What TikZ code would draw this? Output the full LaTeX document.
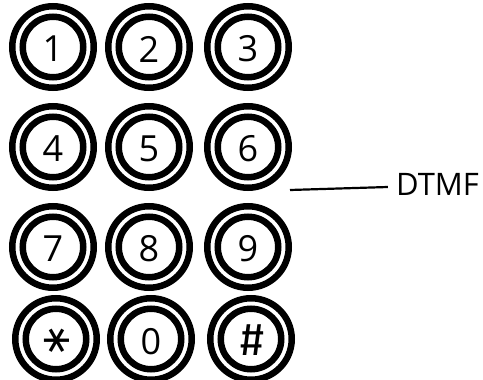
\documentclass[tikz,border=0pt]{standalone}
\usepackage{fontspec}
\setmainfont{Open Sans}
\newfontfamily\dejavu{DejaVu Sans}
\newfontfamily\fira{Fira Sans}
\begin{document}
\begin{tikzpicture}[x=1pt,y=-1pt,
  ring/.style={draw=black,line width=6.5pt},
  keylabel/.style={inner sep=0pt,font=\fontsize{36}{36}\selectfont},
  tag/.style={inner sep=0pt,font=\fontsize{31}{31}\selectfont}]
\useasboundingbox (0,0) rectangle (483,380);
\foreach \x/\y in {53/47,149/47,248/47,53/147,149/147,248/147,
                   53/247,149/247,248/247,56/339,151/339,251/339}{
  \draw[ring] (\x,\y) circle (40.75);
  \draw[ring] (\x,\y) circle (30.25);
}
\node[keylabel] (k1) at (53,49) {1};
\node[keylabel] (k2) at (149,49) {2};
\node[keylabel] (k3) at (248,49) {3};
\node[keylabel] (k4) at (53,149) {4};
\node[keylabel] (k5) at (149,149) {5};
\node[keylabel] (k6) at (248,149) {6};
\node[keylabel] (k7) at (53,249) {7};
\node[keylabel] (k8) at (149,249) {8};
\node[keylabel] (k9) at (248,249) {9};
\node[inner sep=0pt,rotate=90,font=\dejavu\fontsize{40}{40}\selectfont] (kstar) at (57,341) {∗};
\node[keylabel] (k0) at (151,342) {0};
\node[inner sep=0pt,font=\fira\fontsize{46}{46}\selectfont] (khash) at (252,340) {\#};
\node[tag] (dtmf) at (437.5,184) {DTMF};
\coordinate (tip) at (290,190);
\draw[line width=2.2pt] (tip) -- ([xshift=-8pt,yshift=-3pt]dtmf.west);
\end{tikzpicture}
\end{document}
